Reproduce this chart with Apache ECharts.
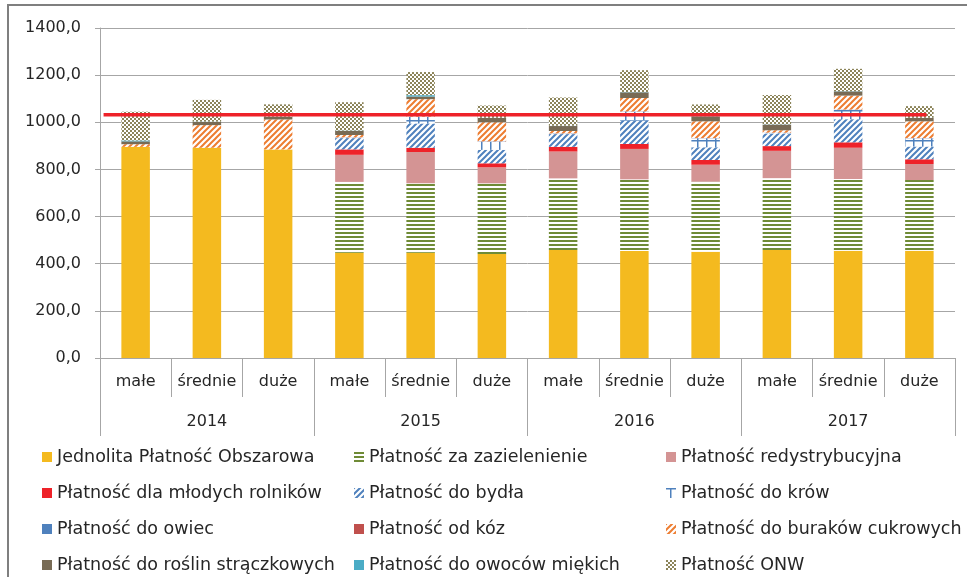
<!DOCTYPE html>
<html>
<head>
<meta charset="utf-8">
<script src="https://cdn.jsdelivr.net/npm/echarts@6/dist/echarts.min.js"></script>
<style>
html,body{margin:0;padding:0;background:#fff;}
#chart{width:967px;height:577px;}
</style>
</head>
<body>
<div id="chart"></div>
<script>
// ---- data ----
const sizes = ['małe','średnie','duże','małe','średnie','duże','małe','średnie','duże','małe','średnie','duże'];
const years = ['2014','2015','2016','2017'];
const yTicks = [0,200,400,600,800,1000,1200,1400];

const seriesNames = [
  'Jednolita Płatność Obszarowa',
  'Płatność za zazielenienie',
  'Płatność redystrybucyjna',
  'Płatność dla młodych rolników',
  'Płatność do bydła',
  'Płatność do krów',
  'Płatność do owiec',
  'Płatność od kóz',
  'Płatność do buraków cukrowych',
  'Płatność do roślin strączkowych',
  'Płatność do owoców miękich',
  'Płatność ONW'
];
const jpo       = [896, 892, 885, 447, 447, 441, 458, 454, 451, 458, 455, 455];
const greening  = [0, 0, 0, 300, 294, 300, 304, 304, 297, 305, 304, 300];
const redist    = [0, 0, 0, 115, 133, 68, 114, 129, 72, 116, 133, 68];
const young     = [0, 0, 0, 23, 18, 17, 20, 21, 20, 20, 23, 20];
const cattle    = [0, 0, 0, 48, 103, 57, 54, 99, 54, 54, 98, 54];
const cows      = [0, 0, 0, 2, 28, 35, 2, 38, 38, 2, 40, 35];
const sheep     = [0, 0, 0, 0.8, 0.8, 0.8, 0.8, 0.8, 0.8, 0.8, 0.8, 0.8];
const goats     = [0, 0, 0, 0.3, 0.3, 0.3, 0.3, 0.3, 0.3, 0.3, 0.3, 0.3];
const beets     = [11, 96, 127, 10, 74, 81, 10, 57, 71, 10, 59, 71];
const legumes   = [12, 14, 11, 18, 11, 18, 21, 24, 21, 24, 18, 14];
const softFruit = [4, 1, 1, 1, 6, 1, 1, 1, 1, 1, 1, 1];
const onw       = [122, 92, 52, 120, 98, 52, 120, 93, 49.5, 124.5, 94.7, 49.5];
const threshold = 1032;
const thresholdSpan = [0.05, 11.6]; // extent of the reference line in category units

const seriesValues = [jpo, greening, redist, young, cattle, cows, sheep, goats, beets, legumes, softFruit, onw];

// ---- styles ----
function pattern(w, h, draw) {
  const c = document.createElement('canvas');
  c.width = w; c.height = h;
  const ctx = c.getContext('2d');
  ctx.fillStyle = '#ffffff';
  ctx.fillRect(0, 0, w, h);
  draw(ctx, w, h);
  return { image: c, repeat: 'repeat' };
}
function diag(color) {
  return pattern(6, 6, (ctx) => {
    ctx.strokeStyle = color; ctx.lineWidth = 2;
    ctx.beginPath();
    ctx.moveTo(-1, 7); ctx.lineTo(7, -1);
    ctx.moveTo(-4, 4); ctx.lineTo(4, -4);
    ctx.moveTo(2, 10); ctx.lineTo(10, 2);
    ctx.stroke();
  });
}
const fills = [
  '#F4BA1F',
  pattern(4, 4, (ctx) => { ctx.fillStyle = '#6F8B36'; ctx.fillRect(0, 0, 4, 2); }),
  '#D49494',
  '#EE2229',
  diag('#4F81BD'),
  pattern(9, 10, (ctx) => { ctx.fillStyle = '#4F81BD'; ctx.fillRect(0, 0, 9, 1.5); ctx.fillRect(4, 0, 1.5, 10); }),
  '#4F81BD',
  '#C0504D',
  diag('#ED7D31'),
  '#786B55',
  '#4BACC6',
  pattern(4, 4, (ctx) => { ctx.fillStyle = '#8C8459'; ctx.fillRect(0, 0, 2, 2); ctx.fillRect(2, 2, 2, 2); })
];

const FONT = 'DejaVu Sans';
const TXT = '#262626';
const GRIDC = '#A6A6A6';

const barSeries = seriesNames.map((name, i) => ({
  name: name,
  type: 'bar',
  stack: 'total',
  xAxisIndex: 0,
  yAxisIndex: 0,
  barCategoryGap: '60%',
  itemStyle: { color: fills[i] },
  data: seriesValues[i]
}));

const legendCols = [[0, 3, 6, 9], [1, 4, 7, 10], [2, 5, 8, 11]];
const legendLefts = [42, 354, 666];
const legends = legendCols.map((idx, c) => ({
  data: idx.map(i => ({ name: seriesNames[i], icon: 'rect' })),
  orient: 'vertical',
  left: legendLefts[c],
  top: 448,
  height: 128,
  padding: 0,
  itemWidth: 10,
  itemHeight: 10,
  itemGap: 18,
  selectedMode: false,
  textStyle: { fontFamily: FONT, fontSize: 17.5, color: TXT, lineHeight: 18 }
}));

const chart = echarts.init(document.getElementById('chart'), null, { renderer: 'canvas' });
chart.setOption({
  animation: false,
  backgroundColor: '#ffffff',
  grid: { left: 100, right: 12, top: 28, bottom: 219, containLabel: false },
  legend: legends,
  graphic: [{
    type: 'rect', silent: true, z: 100,
    shape: { x: 8, y: 5, width: 1000, height: 620 },
    style: { fill: 'none', stroke: '#7F7F7F', lineWidth: 2 }
  }],
  xAxis: [
    {
      type: 'category', data: sizes, position: 'bottom',
      axisLine: { show: true, lineStyle: { color: GRIDC, width: 1 } },
      axisTick: { show: true, interval: 0, length: 39, lineStyle: { color: GRIDC } },
      axisLabel: { interval: 0, margin: 16, fontFamily: FONT, fontSize: 16, color: TXT }
    },
    {
      type: 'category', data: years, position: 'bottom',
      axisLine: { show: false },
      axisTick: { show: true, interval: 0, length: 78, lineStyle: { color: GRIDC } },
      axisLabel: { interval: 0, margin: 56, fontFamily: FONT, fontSize: 16, color: TXT }
    },
    { type: 'value', min: 0, max: sizes.length, show: false, position: 'top' }
  ],
  yAxis: {
    type: 'value', min: yTicks[0], max: yTicks[yTicks.length - 1], interval: 200,
    axisLine: { show: true, lineStyle: { color: GRIDC } },
    axisTick: { show: true, length: 5, lineStyle: { color: GRIDC } },
    splitLine: { show: true, lineStyle: { color: GRIDC, width: 1 } },
    axisLabel: {
      margin: 19, fontFamily: FONT, fontSize: 16, color: TXT,
      formatter: v => v.toFixed(1).replace('.', ',')
    }
  },
  series: barSeries.concat([{
    name: 'threshold',
    type: 'line',
    xAxisIndex: 2,
    yAxisIndex: 0,
    symbol: 'none',
    silent: true,
    z: 5,
    lineStyle: { color: '#EE2229', width: 3.5 },
    data: thresholdSpan.map(x => [x, threshold])
  }])
});
</script>
</body>
</html>
